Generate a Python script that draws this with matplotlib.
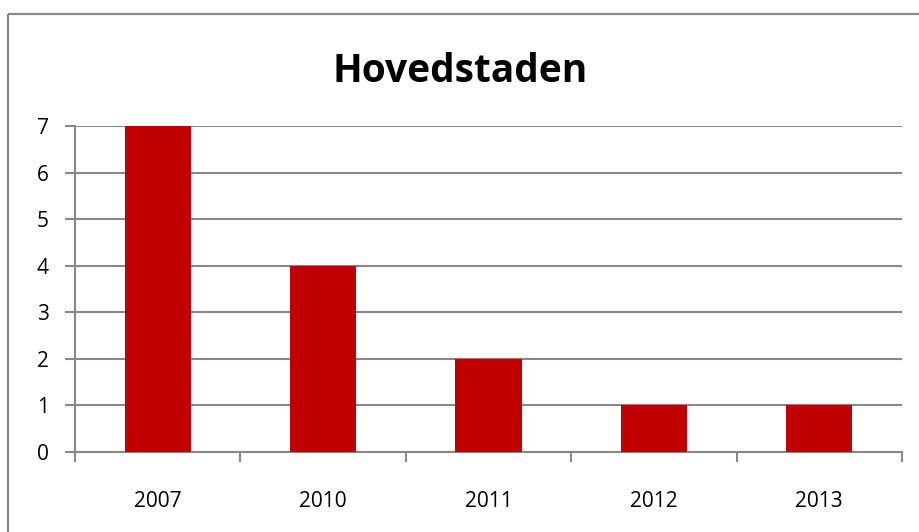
import matplotlib.pyplot as plt
from matplotlib.patches import Rectangle

# Données
years = ['2007', '2010', '2011', '2012', '2013']
values = [7, 4, 2, 1, 1]
title = 'Hovedstaden'

plt.rcParams['font.family'] = ['Open Sans', 'DejaVu Sans']

W, H = 920, 532
fig = plt.figure(figsize=(W / 100, H / 100), dpi=100)

# Cadre du graphique (déborde à droite et en bas)
fig.patches.append(Rectangle((8 / W, 1 - 14 / H), 2, -2, transform=fig.transFigure,
                             fill=False, edgecolor='#888888', linewidth=1.6))

# Zone de tracé
x0, x1 = 75, 902
y_top, y_bot = 126, 452
ax = fig.add_axes([x0 / W, 1 - y_bot / H, (x1 - x0) / W, (y_bot - y_top) / H])

pos = range(len(years))
ax.bar(pos, values, width=0.4, color='#C00000', zorder=3)

ax.set_xlim(-0.5, len(years) - 0.5)
ax.set_ylim(0, 7)
ax.set_yticks(range(0, 8))
ax.yaxis.grid(True, color='#888888', linewidth=1.5)
ax.set_axisbelow(True)

ax.set_xticks([i - 0.5 for i in range(len(years) + 1)])
ax.set_xticklabels([])
ax.set_xticks(list(pos), minor=True)
ax.set_xticklabels(years, minor=True)
ax.tick_params(axis='x', which='minor', length=0, pad=28, labelsize=15)
ax.tick_params(axis='x', which='major', length=7, width=1.5, color='#888888')
ax.tick_params(axis='y', length=7, width=1.5, color='#888888', pad=12, labelsize=15)

for s in ['top', 'right']:
    ax.spines[s].set_visible(False)
for s in ['left', 'bottom']:
    ax.spines[s].set_color('#888888')
    ax.spines[s].set_linewidth(1.5)

fig.text(0.5, 1 - 72 / H, title, ha='center', va='center', fontsize=28, fontweight='bold')

fig.savefig('out.png', dpi=100)
